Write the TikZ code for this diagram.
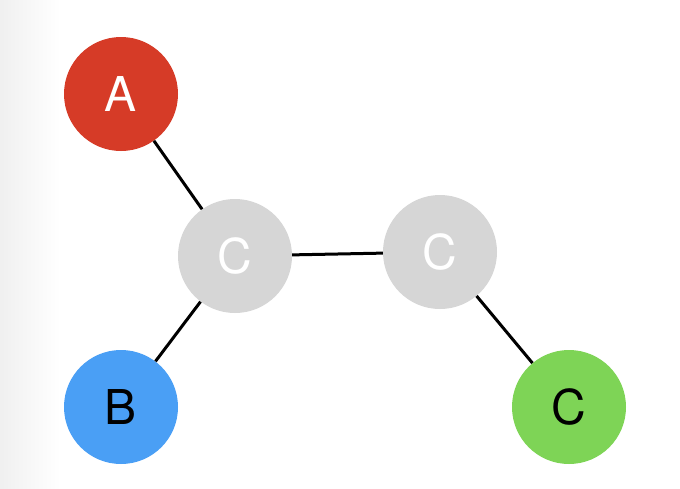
\documentclass[tikz,border=0pt]{standalone}
\usepackage{fontspec}
\setmainfont{TeX Gyre Heros}
\begin{document}
\begin{tikzpicture}[x=1pt,y=-1pt,
  atom/.style={circle,minimum size=114pt,inner sep=0pt,font=\fontsize{48}{48}\selectfont},
  bond/.style={line width=3pt,black}]
\definecolor{cred}{HTML}{D63B27}
\definecolor{cblue}{HTML}{4A9FF5}
\definecolor{cgreen}{HTML}{7ED456}
\definecolor{cgray}{HTML}{D6D6D6}
\useasboundingbox (0,0) rectangle (680,488);
\shade[left color=black!6,right color=white] (0,0) rectangle (60,488);
\fill[white] (60,0) rectangle (680,488);
\node[atom,fill=cred,text=white] (A) at (121,94) {A};
\node[atom,fill=cgray,text=white] (C1) at (235,256) {C};
\node[atom,fill=cgray,text=white] (C2) at (440,252) {C};
\node[atom,fill=cblue,text=black] (B) at (121,407) {B};
\node[atom,fill=cgreen,text=black] (C3) at (569,407) {C};
\begin{scope}[on background layer/.style={}]
\end{scope}
\draw[bond] (A) -- (C1);
\draw[bond] (C1) -- (C2);
\draw[bond] (C1) -- (B);
\draw[bond] (C2) -- (C3);
\end{tikzpicture}
\end{document}
